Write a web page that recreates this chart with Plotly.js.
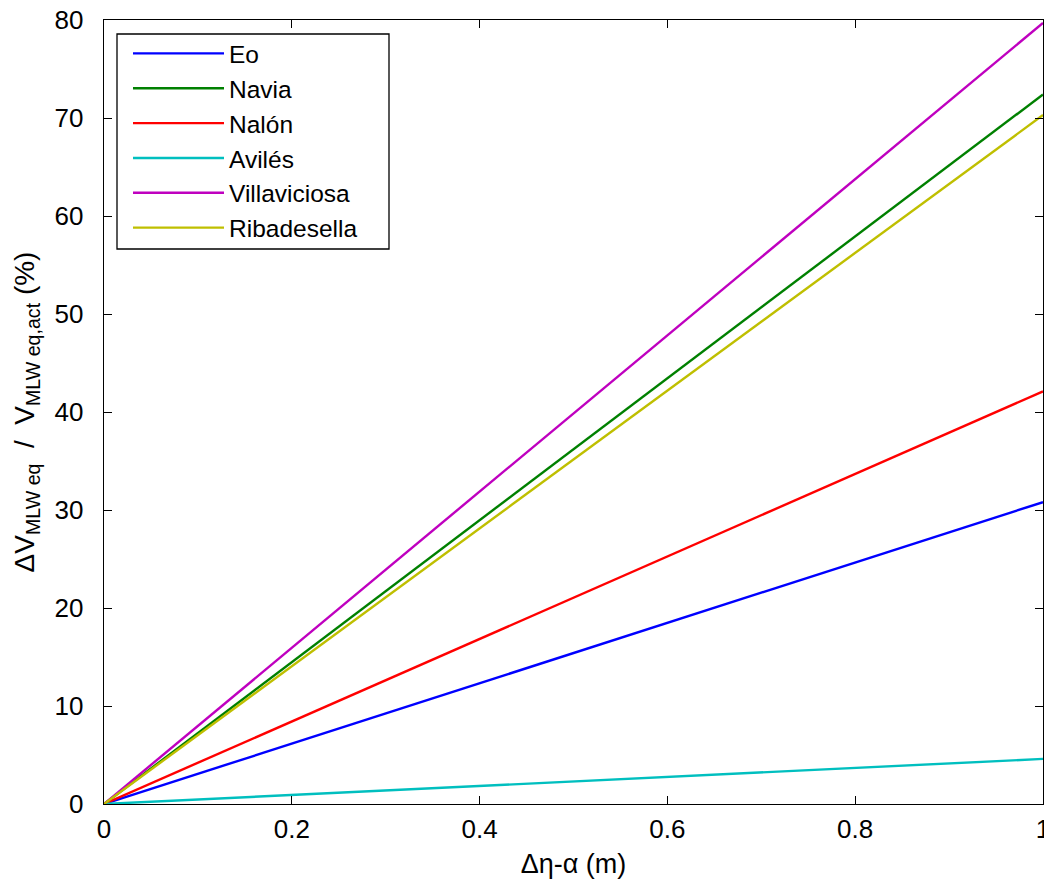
<!DOCTYPE html>
<html>
<head>
<meta charset="utf-8">
<script src="https://cdn.plot.ly/plotly-3.0.1.min.js"></script>
<style>html,body{margin:0;padding:0;background:#fff;}#chart{width:1044px;height:879px;}</style>
</head>
<body>
<div id="chart"></div>
<script>
const xValues = [0, 1];
const seriesNames = ["Eo", "Navia", "Nalón", "Avilés", "Villaviciosa", "Ribadesella"];
const eo = [0, 30.8];
const navia = [0, 72.4];
const nalon = [0, 42.1];
const aviles = [0, 4.6];
const villaviciosa = [0, 79.7];
const ribadesella = [0, 70.3];
const seriesColors = ["#0000ff", "#008000", "#ff0000", "#00bfbf", "#bf00bf", "#bfbf00"];
const xTicks = [0, 0.2, 0.4, 0.6, 0.8, 1];
const xTickText = ["0", "0.2", "0.4", "0.6", "0.8", "1"];
const yTicks = [0, 10, 20, 30, 40, 50, 60, 70, 80];

const allY = [eo, navia, nalon, aviles, villaviciosa, ribadesella];
const traces = allY.map((ys, i) => ({
  x: xValues, y: ys, name: seriesNames[i], type: "scatter", mode: "lines",
  line: {color: seriesColors[i], width: 2.4}, legendgroup: "g" + i
}));

const fontFam = "Liberation Sans, Arial, sans-serif";
const layout = {
  width: 1044, height: 879,
  margin: {l: 104, r: 1, t: 20, b: 75},
  paper_bgcolor: "#fff", plot_bgcolor: "#fff",
  font: {family: fontFam, size: 26, color: "#000"},
  showlegend: true,
  legend: {
    x: (128 - 104) / 939, y: 0.986, xanchor: "left", yanchor: "top",
    bgcolor: "rgba(0,0,0,0)", borderwidth: 0,
    font: {family: fontFam, size: 24.5, color: "#000"},
    itemwidth: 91, tracegroupgap: 0
  },
  shapes: [{
    type: "rect", xref: "paper", yref: "paper", layer: "above",
    x0: (117 - 104) / 939, x1: (389 - 104) / 939,
    y0: (804 - 249) / 784, y1: (804 - 34) / 784,
    line: {color: "#000", width: 1.3}, fillcolor: "#fff"
  }],
  xaxis: {
    range: [0, 1], tickvals: xTicks, ticktext: xTickText,
    ticks: "inside", ticklen: 8, tickcolor: "#000", tickwidth: 1,
    showline: true, linecolor: "#000", linewidth: 1.3, mirror: "ticks",
    showgrid: false, zeroline: false,
    ticklabeloverflow: "allow", ticklabelstandoff: 1,
    tickfont: {size: 26},
    title: {text: "Δη-α (m)", font: {size: 27}, standoff: 12}
  },
  yaxis: {
    range: [0, 80], tickvals: yTicks,
    ticks: "inside", ticklen: 8, tickcolor: "#000", tickwidth: 1,
    showline: true, linecolor: "#000", linewidth: 1.3, mirror: "ticks",
    showgrid: false, zeroline: false,
    ticklabeloverflow: "allow", ticklabelstandoff: 14,
    tickfont: {size: 26},
    title: {text: "ΔV<sub>MLW eq</sub>  /  V<sub>MLW eq,act</sub> (%)", font: {size: 28}, standoff: 11}
  }
};
Plotly.newPlot("chart", traces, layout, {displayModeBar: false, staticPlot: true});
</script>
</body>
</html>
